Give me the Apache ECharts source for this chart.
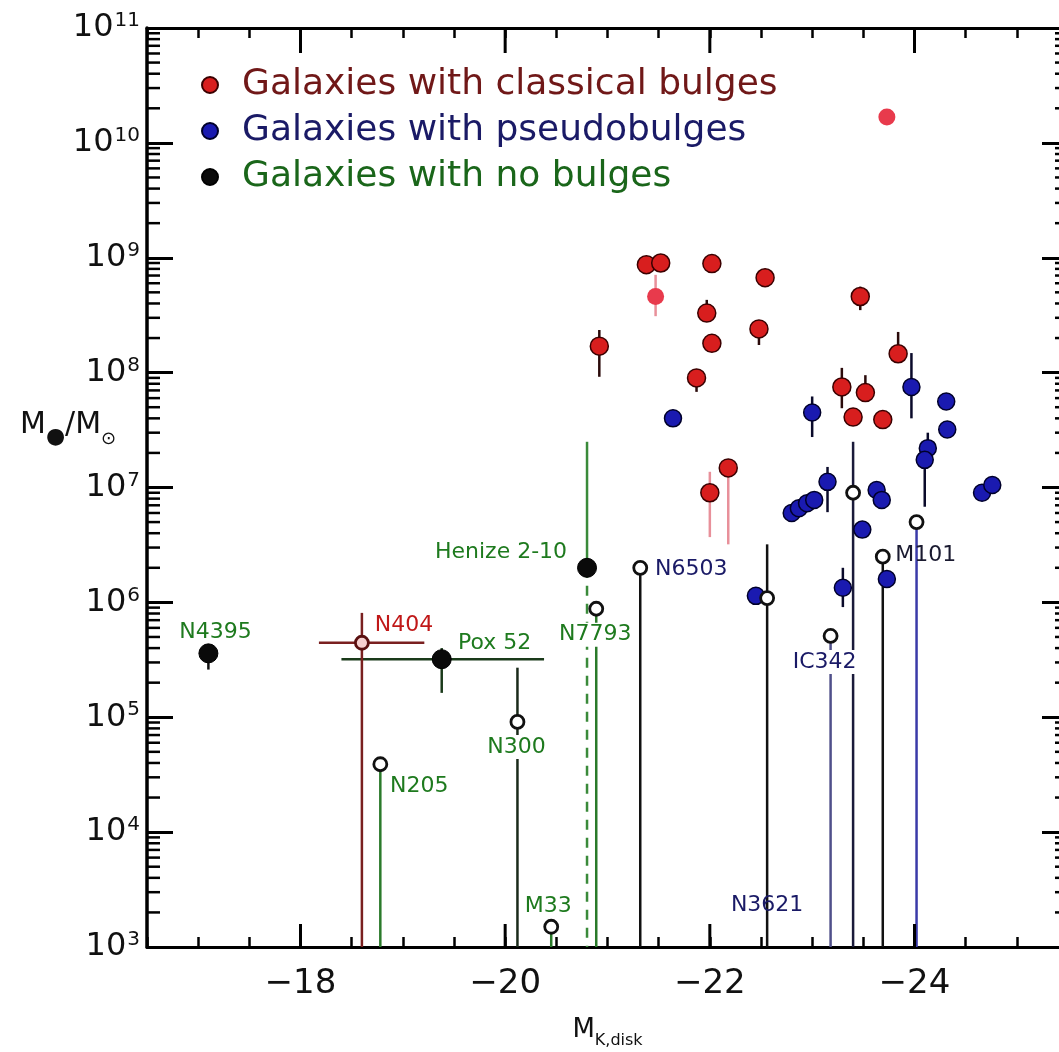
<!DOCTYPE html>
<html><head><meta charset="utf-8">
<script src="https://cdn.jsdelivr.net/npm/echarts@6/dist/echarts.min.js"></script>
<style>html,body{margin:0;padding:0;background:#fff}#c{width:1059px;height:1052px}</style>
</head><body><div id="c"></div>
<script>
// ---------- axes ----------
const X_MIN = -25.5, X_MAX = -16.5;
const Y_MIN = 1e3, Y_MAX = 1e11;
const xTickLabels = [-18, -20, -22, -24];
const yDecades = [3, 4, 5, 6, 7, 8, 9, 10, 11];

// ---------- Galaxies with classical bulges ----------
const classicalX  = [-21.38, -21.52, -22.02, -22.54, -21.97, -22.48, -22.02, -20.92, -21.87, -23.47, -23.84, -23.29, -23.52, -23.40, -23.69, -22.18, -22.00];
const classicalM  = [8.7e8, 9.0e8, 8.9e8, 6.7e8, 3.3e8, 2.4e8, 1.8e8, 1.7e8, 9.0e7, 4.6e8, 1.46e8, 7.5e7, 6.7e7, 4.1e7, 3.9e7, 1.48e7, 9.0e6];
const classicalLo = [null, null, null, null, null, 1.74e8, null, 9.2e7, 6.8e7, 3.5e8, null, 4.9e7, null, null, null, 3.2e6, 3.7e6];
const classicalHi = [null, null, null, null, 4.3e8, null, null, 2.35e8, null, 5.6e8, 2.26e8, 1.1e8, 9.5e7, null, null, null, 1.37e7];
// fainter classical-bulge points
const faintX  = [-23.73, -21.47];
const faintM  = [1.68e10, 4.6e8];
const faintLo = [null, 3.1e8];
const faintHi = [null, 7.1e8];

// ---------- Galaxies with pseudobulges ----------
const pseudoX  = [-21.64, -23.97, -24.31, -24.32, -23.00, -24.13, -24.10, -22.80, -22.87, -22.95, -23.02, -23.15, -23.63, -23.68, -24.66, -24.76, -23.49, -22.45, -23.30, -23.73];
const pseudoM  = [4.0e7, 7.5e7, 5.6e7, 3.2e7, 4.5e7, 2.2e7, 1.74e7, 6.0e6, 6.6e6, 7.3e6, 7.8e6, 1.12e7, 9.5e6, 7.8e6, 9.0e6, 1.05e7, 4.3e6, 1.14e6, 1.34e6, 1.6e6];
const pseudoLo = [null, 4.0e7, null, null, 2.75e7, null, 6.8e6, null, null, null, null, 6.1e6, null, null, null, null, null, null, 9.1e5, null];
const pseudoHi = [null, 1.48e8, null, null, 6.2e7, 3.0e7, null, null, null, null, null, 1.51e7, null, null, null, null, null, null, 2.0e6, null];

// ---------- Galaxies with no bulges (measured) ----------
const noBulgeNames = ['N4395', 'Pox 52', 'Henize 2-10'];
const noBulgeX   = [-17.10, -19.38, -20.80];
const noBulgeM   = [3.6e5, 3.2e5, 2.0e6];
const noBulgeLo  = [2.6e5, 1.63e5, 0];
const noBulgeHi  = [null, 4.0e5, 2.5e7];
const noBulgeXLo = [null, -18.40, null];
const noBulgeXHi = [null, -20.38, null];

// ---------- upper limits (open circles) ----------
const limitNames = ['N404', 'N205', 'N300', 'N7793', 'N6503', 'M33', 'N3621', 'IC342', '', 'M101', ''];
const limitX   = [-18.60, -18.78, -20.12, -20.89, -21.32, -20.45, -22.56, -23.18, -23.40, -23.69, -24.02];
const limitM   = [4.45e5, 3.9e4, 9.1e4, 8.8e5, 2.0e6, 1.5e3, 1.09e6, 5.1e5, 9.0e6, 2.5e6, 5.0e6];
const limitLo  = [0, 0, 0, 0, 0, 0, 0, 0, 0, 0, 0];
const limitHi  = [8.1e5, null, 2.7e5, null, null, null, 3.2e6, null, 2.5e7, null, null];
const limitXLo = [-18.18, null, null, null, null, null, null, null, null, null, null];
const limitXHi = [-19.21, null, null, null, null, null, null, null, null, null, null];

// ---------- styles ----------
const FONT = 'DejaVu Sans';
const GREEN = '#1e7a1e', NAVY = '#1a1a66', REDT = '#c01818';
const limitLineColor = ['#7a2020', '#2a7a2a', '#1a2a1a', '#2a7a2a', '#111111', '#2a7a2a', '#111111', '#50508a', '#1a1a3a', '#111111', '#3a3aa8'];
const classicalErrColor = {15: '#e8909a', 16: '#e8909a'};
const labelStyle = {
  'N4395': {offset: [7, -21], color: GREEN},
  'Pox 52': {offset: [53, -16], color: GREEN},
  'Henize 2-10': {offset: [-86, -16], color: GREEN},
  'N404': {offset: [42, -17], color: REDT},
  'N205': {offset: [39, 22], color: GREEN},
  'N300': {offset: [-1, 25], color: GREEN, bg: true},
  'N7793': {offset: [-1, 26], color: GREEN, bg: true},
  'N6503': {offset: [51, 1], color: NAVY},
  'M33': {offset: [-3, -20], color: GREEN},
  'N3621': {offset: [0, 307], color: NAVY},
  'IC342': {offset: [-6, 26], color: NAVY, bg: true},
  'M101': {offset: [43, -1], color: '#1a1a30'}
};

function seg(a, b, color, width, dash) {
  return {type: 'line', shape: {x1: a[0], y1: a[1], x2: b[0], y2: b[1]},
          style: {stroke: color, lineWidth: width, lineDash: dash || null}};
}
function errSeries(name, xs, ys, lo, hi, xlo, xhi, colorFn, width, dashFn) {
  return {
    name: name, type: 'custom', z: 2, silent: true,
    data: xs.map((x, i) => [x, ys[i]]),
    encode: {x: 0, y: 1},
    renderItem: function (params, api) {
      const i = params.dataIndex;
      const c = api.coord([xs[i], ys[i]]);
      const col = colorFn(i);
      const kids = [];
      if (hi && hi[i] != null) kids.push(seg(c, api.coord([xs[i], Math.min(hi[i], Y_MAX)]), col, width));
      if (lo && lo[i] != null) kids.push(seg(c, api.coord([xs[i], Math.max(lo[i], Y_MIN)]), col, width, dashFn ? dashFn(i) : null));
      if (xlo && xlo[i] != null) kids.push(seg(c, api.coord([xlo[i], ys[i]]), col, width));
      if (xhi && xhi[i] != null) kids.push(seg(c, api.coord([xhi[i], ys[i]]), col, width));
      return {type: 'group', children: kids};
    }
  };
}
function nameLabel(n) {
  const s = labelStyle[n];
  if (!n || !s) return {show: false};
  return {show: true, position: 'inside', offset: s.offset, formatter: '{b}', color: s.color,
          fontSize: 22, fontFamily: FONT,
          backgroundColor: s.bg ? '#fff' : 'transparent', padding: s.bg ? [1, 2] : 0};
}

const chart = echarts.init(document.getElementById('c'), null, {renderer: 'canvas', width: 1059, height: 1052});

const yMinorData = [];
yDecades.slice(0, -1).forEach(d => { for (let k = 2; k <= 9; k++) yMinorData.push([X_MAX, k * Math.pow(10, d)]); });

const option = {
  animation: false,
  backgroundColor: '#ffffff',
  grid: {left: 147, top: 28, right: -9, bottom: 105, outerBoundsMode: 'none'},
  xAxis: [
    {type: 'value', min: X_MIN, max: X_MAX, interval: 0.5, inverse: true, position: 'bottom',
     name: '{m|M}{s|K,disk}', nameLocation: 'middle', nameGap: 66,
     nameTextStyle: {rich: {m: {fontSize: 26, fontFamily: FONT, color: '#111', lineHeight: 30, verticalAlign: 'bottom'},
                            s: {fontSize: 16, fontFamily: FONT, color: '#111', lineHeight: 16, verticalAlign: 'bottom', padding: [0, 0, -6, 0]}}},
     axisLine: {lineStyle: {color: '#000', width: 3}},
     axisTick: {inside: true, length: 10, lineStyle: {color: '#000', width: 2.5}},
     axisLabel: {fontSize: 34, fontFamily: FONT, color: '#111', margin: 20,
                 formatter: v => (xTickLabels.indexOf(v) >= 0 ? '\u2212' + Math.abs(v) : '')},
     splitLine: {show: false}},
    {type: 'value', min: X_MIN, max: X_MAX, interval: 0.5, inverse: true, position: 'top',
     axisLine: {lineStyle: {color: '#000', width: 3}},
     axisTick: {inside: true, length: 10, lineStyle: {color: '#000', width: 2.5}},
     axisLabel: {show: false}, splitLine: {show: false}}
  ],
  yAxis: [
    {type: 'log', logBase: 10, min: Y_MIN, max: Y_MAX, position: 'left',
     axisLine: {lineStyle: {color: '#000', width: 3.5}},
     axisTick: {inside: true, length: 26, lineStyle: {color: '#000', width: 3}},
     axisLabel: {margin: 7, color: '#111',
                 formatter: v => '{b|10}{s|' + Math.round(Math.log10(v)) + '}',
                 rich: {b: {fontSize: 32, fontFamily: FONT, color: '#111', lineHeight: 34, verticalAlign: 'middle'},
                        s: {fontSize: 20, fontFamily: FONT, color: '#111', lineHeight: 20, verticalAlign: 'top', padding: [0, 0, 0, 1]}}},
     splitLine: {show: false}},
    {type: 'log', logBase: 10, min: Y_MIN, max: Y_MAX, position: 'right',
     axisLine: {lineStyle: {color: '#000', width: 3.5}},
     axisTick: {inside: true, length: 26, lineStyle: {color: '#000', width: 3}},
     axisLabel: {show: false}, splitLine: {show: false}}
  ],
  legend: {
    orient: 'vertical', left: 196, top: 57, itemWidth: 16, itemHeight: 16, itemGap: 0,
    selectedMode: false,
    textStyle: {fontSize: 36, fontFamily: FONT, lineHeight: 46, padding: [0, 0, 0, 19]},
    data: [
      {name: 'Galaxies with classical bulges', textStyle: {color: '#701818'}},
      {name: 'Galaxies with pseudobulges', textStyle: {color: '#1a1a66'}},
      {name: 'Galaxies with no bulges', textStyle: {color: '#1a661a'}}
    ]
  },
  graphic: [
    {type: 'text', left: 20, top: 410, z: 10,
     style: {text: '{m|M}{d|\u25CF}{m|/M}{o|\u2299}',
             rich: {m: {fontSize: 30, fontFamily: FONT, fill: '#111', lineHeight: 34, verticalAlign: 'bottom'},
                    d: {fontSize: 22, fontFamily: FONT, fill: '#111', lineHeight: 20, verticalAlign: 'bottom', padding: [0, 0, -8, 0]},
                    o: {fontSize: 18, fontFamily: FONT, fill: '#111', lineHeight: 18, verticalAlign: 'bottom', padding: [0, 0, -8, 0]}}}}
  ],
  series: [
    // tick decorations drawn through the axes' scales
    {type: 'custom', name: 'xMajorTicks', silent: true, z: 5, xAxisIndex: 0, yAxisIndex: 0,
     data: xTickLabels.map(v => [v, Y_MIN]), encode: {x: 0, y: 1},
     renderItem: function (params, api) {
       const v = api.value(0);
       const b = api.coord([v, Y_MIN]), t = api.coord([v, Y_MAX]);
       return {type: 'group', children: [
         seg(b, [b[0], b[1] - 23], '#000', 3), seg(t, [t[0], t[1] + 25], '#000', 3)]};
     }},
    {type: 'custom', name: 'yMinorTicks', silent: true, z: 5,
     data: yMinorData, encode: {x: 0, y: 1},
     renderItem: function (params, api) {
       const v = api.value(1);
       const l = api.coord([X_MAX, v]), r = api.coord([X_MIN, v]);
       return {type: 'group', children: [
         seg(l, [l[0] + 13, l[1]], '#000', 2.5), seg(r, [r[0] - 13, r[1]], '#000', 2.5)]};
     }},
    // error bars
    errSeries('eClassical', classicalX, classicalM, classicalLo, classicalHi, null, null, i => classicalErrColor[i] || '#2a0a0a', 2.5),
    errSeries('eFaint', faintX, faintM, faintLo, faintHi, null, null, () => '#e8909a', 2.5),
    errSeries('ePseudo', pseudoX, pseudoM, pseudoLo, pseudoHi, null, null, () => '#0a0a2a', 2.5),
    errSeries('eNoBulge', noBulgeX, noBulgeM, noBulgeLo, noBulgeHi, noBulgeXLo, noBulgeXHi,
              i => (i === 0 ? '#111' : (i === 2 ? '#3a8a3a' : '#1a3a1a')), 2.5, i => (i === 2 ? [10, 8] : null)),
    errSeries('eLimit', limitX, limitM, limitLo, limitHi, limitXLo, limitXHi, i => limitLineColor[i], 2.5),
    // points
    {name: 'Galaxies with classical bulges', type: 'scatter', z: 4, symbol: 'circle', symbolSize: 18,
     itemStyle: {color: '#d81e1e', borderColor: '#3a0000', borderWidth: 1.5, opacity: 1},
     data: classicalX.map((x, i) => [x, classicalM[i]])},
    {name: 'classical (faint)', type: 'scatter', z: 4, symbol: 'circle', symbolSize: 17,
     itemStyle: {color: '#e83a4c', opacity: 1},
     data: faintX.map((x, i) => [x, faintM[i]])},
    {name: 'Galaxies with pseudobulges', type: 'scatter', z: 4, symbol: 'circle', symbolSize: 17,
     itemStyle: {color: '#1a1ab0', borderColor: '#00002a', borderWidth: 1.5, opacity: 1},
     data: pseudoX.map((x, i) => [x, pseudoM[i]])},
    {name: 'Galaxies with no bulges', type: 'scatter', z: 4, symbol: 'circle', symbolSize: 19,
     itemStyle: {color: '#0a0a0a', borderColor: '#000', borderWidth: 1, opacity: 1},
     data: noBulgeX.map((x, i) => ({name: noBulgeNames[i], value: [x, noBulgeM[i]], label: nameLabel(noBulgeNames[i])}))},
    {name: 'upper limits', type: 'scatter', z: 4, symbol: 'circle', symbolSize: 13,
     itemStyle: {color: '#ffffff', borderColor: '#111', borderWidth: 2.8, opacity: 1},
     data: limitX.map((x, i) => ({name: limitNames[i], value: [x, limitM[i]], label: nameLabel(limitNames[i]),
                                   itemStyle: i === 0 ? {color: '#f6d0d0', borderColor: '#5a1010'} : undefined}))}
  ]
};
chart.setOption(option);
</script></body></html>
